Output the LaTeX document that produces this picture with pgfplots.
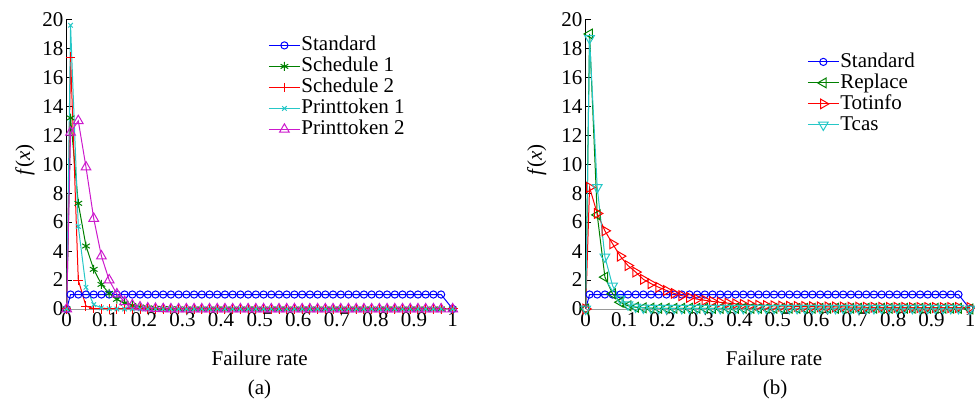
\documentclass[border=0pt]{standalone}
\usepackage{pgfplots}
\pgfplotsset{compat=1.18}
\usepackage{pgfplotstable}
\usepackage{fontspec}
\setmainfont{Liberation Serif}

\definecolor{mblue}{rgb}{0,0,1}
\definecolor{mgreen}{rgb}{0,0.5,0}
\definecolor{mred}{rgb}{1,0,0}
\definecolor{mcyan}{rgb}{0.15,0.78,0.78}
\definecolor{mmag}{rgb}{0.8,0.1,0.8}

% left panel: x std s1 s2 p1 p2
\pgfplotstableread{
x    std s1    s2    p1    p2
0    0   0     0     0     0
0.01 1   13.2  17.4  19.6  12.2
0.03 1   7.3   2.0   5.7   13.0
0.05 1   4.35  0.2   1.5   9.8
0.07 1   2.74  0.03  0.3   6.25
0.09 1   1.7   0     0.08  3.65
0.11 1   1.08  0     0.02  2.0
0.13 1   0.67  0     0     1.03
0.15 1   0.4   0     0     0.5
0.17 1   0.24  0     0     0.27
0.19 1   0.14  0     0     0.13
0.21 1   0.08  0     0     0.06
0.23 1   0.05  0     0     0.03
0.25 1   0.03  0     0     0.01
0.27 1   0.02  0     0     0
0.29 1   0.01  0     0     0
0.31 1   0     0     0     0
0.33 1   0     0     0     0
0.35 1   0     0     0     0
0.37 1   0     0     0     0
0.39 1   0     0     0     0
0.41 1   0     0     0     0
0.43 1   0     0     0     0
0.45 1   0     0     0     0
0.47 1   0     0     0     0
0.49 1   0     0     0     0
0.51 1   0     0     0     0
0.53 1   0     0     0     0
0.55 1   0     0     0     0
0.57 1   0     0     0     0
0.59 1   0     0     0     0
0.61 1   0     0     0     0
0.63 1   0     0     0     0
0.65 1   0     0     0     0
0.67 1   0     0     0     0
0.69 1   0     0     0     0
0.71 1   0     0     0     0
0.73 1   0     0     0     0
0.75 1   0     0     0     0
0.77 1   0     0     0     0
0.79 1   0     0     0     0
0.81 1   0     0     0     0
0.83 1   0     0     0     0
0.85 1   0     0     0     0
0.87 1   0     0     0     0
0.89 1   0     0     0     0
0.91 1   0     0     0     0
0.93 1   0     0     0     0
0.95 1   0     0     0     0
0.97 1   0     0     0     0
1    0   0     0     0     0
}\lefttab

% right panel: x std rep tot tcas
\pgfplotstableread{
x    std rep   tot   tcas
0    0   0     0     0
0.01 1   19.0  8.4   18.7
0.03 1   6.5   6.6   8.4
0.05 1   2.2   5.4   3.6
0.07 1   1.05  4.5   1.6
0.09 1   0.47  3.65  0.7
0.11 1   0.22  3.0   0.3
0.13 1   0.12  2.55  0.15
0.15 1   0.08  2.05  0.08
0.17 1   0.06  1.75  0.06
0.19 1   0.05  1.5   0.05
0.21 1   0.05  1.28  0.05
0.23 1   0.05  1.08  0.05
0.25 1   0.05  0.92  0.05
0.27 1   0.05  0.8   0.05
0.29 1   0.05  0.68  0.05
0.31 1   0.05  0.6   0.05
0.33 1   0.05  0.52  0.05
0.35 1   0.05  0.46  0.05
0.37 1   0.05  0.4   0.05
0.39 1   0.05  0.36  0.05
0.41 1   0.05  0.32  0.05
0.43 1   0.05  0.29  0.05
0.45 1   0.05  0.26  0.05
0.47 1   0.05  0.24  0.05
0.49 1   0.05  0.22  0.05
0.51 1   0.05  0.2   0.05
0.53 1   0.05  0.19  0.05
0.55 1   0.05  0.18  0.05
0.57 1   0.05  0.17  0.05
0.59 1   0.05  0.16  0.05
0.61 1   0.05  0.15  0.05
0.63 1   0.05  0.15  0.05
0.65 1   0.05  0.14  0.05
0.67 1   0.05  0.14  0.05
0.69 1   0.05  0.13  0.05
0.71 1   0.05  0.13  0.05
0.73 1   0.05  0.12  0.05
0.75 1   0.05  0.12  0.05
0.77 1   0.05  0.12  0.05
0.79 1   0.05  0.11  0.05
0.81 1   0.05  0.11  0.05
0.83 1   0.05  0.11  0.05
0.85 1   0.05  0.1   0.05
0.87 1   0.05  0.1   0.05
0.89 1   0.05  0.1   0.05
0.91 1   0.05  0.1   0.05
0.93 1   0.05  0.1   0.05
0.95 1   0.05  0.1   0.05
0.97 1   0.05  0.1   0.05
1    0   0     0.1   0
}\righttab

\pgfplotsset{
  panel/.style={
    scale only axis,
    height=144.75pt,
    xmin=0, xmax=1, ymin=0, ymax=20,
    axis x line=bottom, axis y line=left,
    axis line style={-},
    x axis line style={gray!80},
    y axis line style={black},
    xtick={0,0.1,0.2,0.3,0.4,0.5,0.6,0.7,0.8,0.9,1},
    xticklabels={0,0.1,0.2,0.3,0.4,0.5,0.6,0.7,0.8,0.9,1},
    ytick={0,2,4,6,8,10,12,14,16,18,20},
    tick align=inside,
    major tick length=2.5pt,
    x tick style={draw=none},
    y tick style={black},
    /pgf/number format/assume math mode=true,
    tick label style={font=\fontsize{10.5}{12}\selectfont},
    label style={font=\fontsize{10.5}{12}\selectfont},
    xticklabel style={inner sep=1.5pt},
    yticklabel style={inner sep=1.5pt},
    xlabel={Failure rate},
    ylabel={\textit{f}(\textit{x})},
    legend cell align={left},
    legend style={draw=none, fill=none, anchor=north west,
      font=\fontsize{10.5}{12}\selectfont, row sep=0pt,
      nodes={inner sep=0.5pt, text height=7.5pt, text depth=2pt}},
    legend image code/.code={
      \draw[mark repeat=2,mark phase=2] plot coordinates {(0pt,0pt) (7.75pt,0pt) (15.5pt,0pt)};},
    every axis plot/.append style={line width=0.5pt},
  }
}

\begin{document}
\begin{tikzpicture}
\useasboundingbox (0,0) rectangle (487.5pt,200pt);

\begin{axis}[panel, at={(33.35pt,45.5pt)}, anchor=south west, width=193pt,
  xlabel style={at={(axis description cs:0.5,-0.169)}, anchor=center},
  ylabel style={at={(axis description cs:-0.108,0.515)}, anchor=center, rotate=0},
  legend style={at={(axis description cs:0.506,0.962)}}]
  \addplot[mblue, mark=o, mark size=1.8pt] table[x=x, y=std] {\lefttab};
  \addplot[mgreen, mark=asterisk, mark size=2.2pt] table[x=x, y=s1] {\lefttab};
  \addplot[mred, mark=+, mark size=2.4pt] table[x=x, y=s2] {\lefttab};
  \addplot[mcyan, mark=x, mark size=1.6pt] table[x=x, y=p1] {\lefttab};
  \addplot[mmag, mark=triangle, mark size=2.8pt] table[x=x, y=p2] {\lefttab};
  \legend{Standard, Schedule 1, Schedule 2, Printtoken 1, Printtoken 2}
\end{axis}

\begin{axis}[panel, at={(292.85pt,45.5pt)}, anchor=south west, width=192.15pt,
  xlabel style={at={(axis description cs:0.49,-0.169)}, anchor=center},
  ylabel style={at={(axis description cs:-0.1275,0.515)}, anchor=center, rotate=0},
  legend style={at={(axis description cs:0.56,0.905)}}]
  \addplot[mblue, mark=o, mark size=1.8pt] table[x=x, y=std] {\righttab};
  \addplot[mgreen, mark=triangle, mark size=2.8pt, mark options={rotate=90}] table[x=x, y=rep] {\righttab};
  \addplot[mred, mark=triangle, mark size=2.8pt, mark options={rotate=-90}] table[x=x, y=tot] {\righttab};
  \addplot[mcyan, mark=triangle, mark size=2.8pt, mark options={rotate=180}] table[x=x, y=tcas] {\righttab};
  \legend{Standard, Replace, Totinfo, Tcas}
\end{axis}

\node[font=\fontsize{10.5}{12}\selectfont] at (129.75pt,5.5pt) {(a)};
\node[font=\fontsize{10.5}{12}\selectfont] at (387.5pt,5.5pt) {(b)};
\end{tikzpicture}
\end{document}
